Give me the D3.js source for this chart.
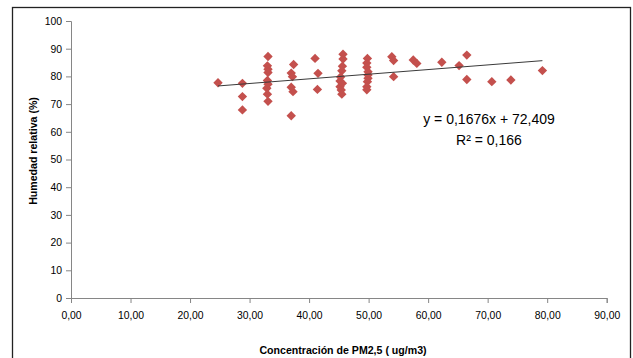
<!DOCTYPE html>
<html>
<head>
<meta charset="utf-8">
<script src="https://cdn.jsdelivr.net/npm/d3@7"></script>
<style>
  html, body { margin: 0; padding: 0; background: #fff; }
  svg { display: block; }
  text { font-family: "Liberation Sans", Arial, sans-serif; fill: #000; }
</style>
</head>
<body>
<svg id="chart" width="633" height="358"></svg>
<script>
// PM2.5 concentration (x) values
const pm25 = [
  24.7,
  28.8, 28.8, 28.8,
  33.1, 33.0, 33.1, 33.1, 33.0, 33.1, 32.9, 33.0, 33.1,
  37.4, 37.0, 37.2, 37.0, 37.3, 37.0,
  41.0, 41.5, 41.4,
  45.7, 45.7, 45.6, 45.5, 45.3, 45.2, 45.2, 45.4, 45.5, 45.6,
  49.8, 49.7, 49.7, 49.9, 49.9, 49.8, 49.9, 49.7, 49.7,
  53.9, 54.2, 54.2,
  57.5, 58.1, 62.3, 66.5, 65.2, 66.5, 70.7, 73.9, 79.2
];
// Relative humidity (y) values
const humedad = [
  77.7,
  77.5, 72.7, 67.9,
  87.2, 83.8, 82.6, 81.4, 78.5, 77.2, 75.7, 73.6, 71.0,
  84.3, 81.2, 79.9, 76.1, 74.5, 65.8,
  86.5, 81.1, 75.3,
  88.0, 86.3, 83.7, 82.0, 79.8, 78.3, 76.3, 75.1, 73.6, 77.5,
  86.5, 84.8, 83.3, 81.7, 80.5, 78.1, 79.3, 76.3, 75.2,
  87.1, 85.7, 79.9,
  85.9, 84.7, 85.1, 87.7, 83.9, 78.9, 78.1, 78.7, 82.1
];
const xTicks = [0, 10, 20, 30, 40, 50, 60, 70, 80, 90];
const yTicks = [0, 10, 20, 30, 40, 50, 60, 70, 80, 90, 100];
const trendSlope = 0.1676;
const trendIntercept = 72.409;
const eqLabel = "y = 0,1676x + 72,409";
const r2Label = "R² = 0,166";
const xTitle = "Concentración de PM2,5 ( ug/m3)";
const yTitle = "Humedad relativa  (%)";

const svg = d3.select("#chart");

// outer chart border
svg.append("rect")
  .attr("x", 12.5).attr("y", 7.5)
  .attr("width", 618).attr("height", 360)
  .attr("fill", "#fff").attr("stroke", "#222").attr("stroke-width", 1.3);

const x = d3.scaleLinear().domain([0, 90]).range([71, 606.7]);
const y = d3.scaleLinear().domain([0, 100]).range([298, 21]);
const fmtX = v => d3.format(".2f")(v).replace(".", ",");

const axisColor = "#868686";

// Y axis
const yAxis = svg.append("g")
  .attr("transform", `translate(${x(0)},0)`)
  .call(d3.axisLeft(y).tickValues(yTicks).tickSize(5).tickPadding(4));
// X axis
const xAxis = svg.append("g")
  .attr("transform", `translate(0,${y(0)})`)
  .call(d3.axisBottom(x).tickValues(xTicks).tickFormat(fmtX).tickSize(5).tickPadding(9));

[xAxis, yAxis].forEach(g => {
  g.select(".domain").attr("stroke", axisColor).attr("stroke-width", 1);
  g.selectAll(".tick line").attr("stroke", axisColor);
  g.selectAll(".tick text")
    .attr("fill", "#000")
    .style("font-family", '"Liberation Sans", Arial, sans-serif')
    .style("font-size", "10.4px");
});

// data points
const data = pm25.map((v, i) => ({ x: v, y: humedad[i] }));
const diamond = d3.symbol().type(d3.symbolSquare).size(44);
svg.append("g").selectAll("path")
  .data(data)
  .join("path")
  .attr("d", diamond)
  .attr("transform", d => `translate(${x(d.x)},${y(d.y)}) rotate(45)`)
  .attr("fill", "#C4504D");

// trend line
const xMin = d3.min(pm25), xMax = d3.max(pm25);
svg.append("line")
  .attr("x1", x(xMin)).attr("y1", y(trendSlope * xMin + trendIntercept))
  .attr("x2", x(xMax)).attr("y2", y(trendSlope * xMax + trendIntercept))
  .attr("stroke", "#3a3a3a").attr("stroke-width", 1);

// equation labels
svg.append("text")
  .attr("x", 489).attr("y", 124)
  .attr("text-anchor", "middle")
  .style("font-size", "14px")
  .text(eqLabel);
svg.append("text")
  .attr("x", 489).attr("y", 145)
  .attr("text-anchor", "middle")
  .style("font-size", "14px")
  .text(r2Label);

// axis titles
svg.append("text")
  .attr("x", 343).attr("y", 354)
  .attr("text-anchor", "middle")
  .style("font-size", "10.6px").style("font-weight", "bold")
  .text(xTitle);
svg.append("text")
  .attr("transform", "translate(37,151) rotate(-90)")
  .attr("text-anchor", "middle")
  .style("font-size", "10.6px").style("font-weight", "bold")
  .text(yTitle);
</script>
</body>
</html>
